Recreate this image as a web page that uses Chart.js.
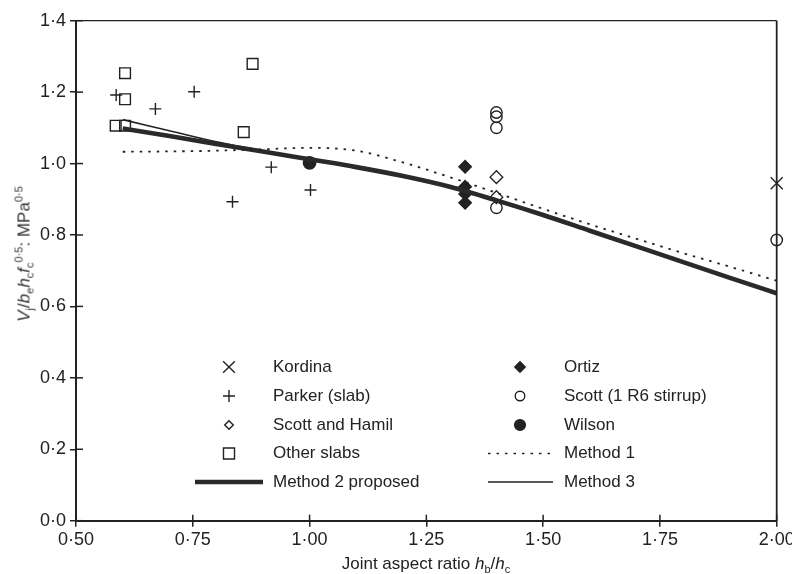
<!DOCTYPE html>
<html>
<head>
<meta charset="utf-8">
<script src="https://cdn.jsdelivr.net/npm/chart.js@4.4.0/dist/chart.umd.min.js"></script>
<style>
  html, body { margin: 0; padding: 0; background: #fff; }
  #wrap { position: relative; width: 792px; height: 574px; font-family: "Liberation Sans", Arial, sans-serif; color: #222; }
  canvas { position: absolute; left: 0; top: 0; }
  .title { position: absolute; white-space: nowrap; font-size: 17px; line-height: 1; font-weight: normal; }
  .title i { font-style: italic; }
  .title sub, .title sup { font-size: 11px; line-height: 0; }
  #ytitle { left: 24px; top: 254px; transform: translate(-50%, -50%) rotate(-90deg); color: #333; }
  #xtitle { left: 426px; top: 563px; transform: translate(-50%, -50%); }
</style>
</head>
<body>
<div id="wrap">
  <canvas id="chart" width="792" height="574"></canvas>
  <div class="title" id="ytitle"><i>V</i><sub>j</sub>/<i>b</i><sub>e</sub><i>h</i><sub>c</sub><i>f</i><sub>c</sub><sup>0·5</sup>: MPa<sup>0·5</sup></div>
  <div class="title" id="xtitle">Joint aspect ratio <i>h</i><sub>b</sub>/<i>h</i><sub>c</sub></div>
</div>
<script>
// test data
const kordina = [{ x: 2.0, y: 0.945 }];
const parker = [
  { x: 0.586, y: 1.192 }, { x: 0.67, y: 1.153 }, { x: 0.753, y: 1.201 },
  { x: 0.835, y: 0.893 }, { x: 0.918, y: 0.99 }, { x: 1.002, y: 0.926 },
];
const scottHamil = [{ x: 1.4, y: 0.962 }, { x: 1.4, y: 0.906 }];
const otherSlabs = [
  { x: 0.585, y: 1.106 }, { x: 0.605, y: 1.106 }, { x: 0.605, y: 1.18 },
  { x: 0.605, y: 1.253 }, { x: 0.859, y: 1.088 }, { x: 0.878, y: 1.279 },
];
const ortiz = [{ x: 1.333, y: 0.991 }, { x: 1.333, y: 0.935 }, { x: 1.333, y: 0.915 }, { x: 1.333, y: 0.89 }];
const scottR6 = [{ x: 1.4, y: 1.143 }, { x: 1.4, y: 1.131 }, { x: 1.4, y: 1.1 }, { x: 1.4, y: 0.876 }, { x: 2.0, y: 0.786 }];
const wilson = [{ x: 1.0, y: 1.002 }];

// design curves
const methodX = [0.6, 0.7, 0.8, 0.9, 1.0, 1.1, 1.2, 1.3, 1.4, 1.5, 1.6, 1.7, 1.8, 1.9, 2.0];
const method1 = [1.033, 1.034, 1.036, 1.04, 1.044, 1.036, 1.003, 0.962, 0.918, 0.873, 0.83, 0.789, 0.749, 0.711, 0.672];
const method2 = [1.098, 1.077, 1.055, 1.034, 1.012, 0.99, 0.965, 0.935, 0.897, 0.856, 0.812, 0.768, 0.724, 0.68, 0.637];
const method3 = [1.123, 1.092, 1.061, 1.036, 1.014, 0.992, 0.966, 0.936, 0.899, 0.858, 0.814, 0.77, 0.726, 0.682, 0.64];

const xTicks = [0.5, 0.75, 1.0, 1.25, 1.5, 1.75, 2.0];
const yTicks = [0, 0.2, 0.4, 0.6, 0.8, 1.0, 1.2, 1.4];

const INK = "#222";
const FONT = '"Liberation Sans", Arial, sans-serif';
const toXY = (ys) => methodX.map((x, i) => ({ x, y: ys[i] }));
const dot = (s) => s.replace(".", "·");

function pts(label, data, style, radius, filled) {
  return {
    type: "scatter", label, data, clip: false,
    pointStyle: style, pointRadius: radius, pointHoverRadius: radius,
    pointBorderWidth: 1.4, borderColor: INK,
    pointBackgroundColor: filled ? INK : "rgba(255,255,255,0)",
    backgroundColor: filled ? INK : "rgba(255,255,255,0)",
  };
}
function curve(label, ys, width, dash, color) {
  return {
    type: "line", label, data: toXY(ys), borderColor: color || INK, borderWidth: width,
    borderDash: dash || [], pointRadius: 0, tension: 0.4, cubicInterpolationMode: "monotone", fill: false,
  };
}

// legend rows: [label, kind, style, radius, filled, column, row]
const legendItems = [
  ["Kordina", "pt", "crossRot", 8.3, false, 0, 0],
  ["Parker (slab)", "pt", "cross", 6, false, 0, 1],
  ["Scott and Hamil", "pt", "rectRot", 4.3, false, 0, 2],
  ["Other slabs", "pt", "rect", 7.8, false, 0, 3],
  ["Method 2 proposed", "line", 4.6, null, null, 0, 4],
  ["Ortiz", "pt", "rectRot", 5.2, true, 1, 0],
  ["Scott (1 R6 stirrup)", "pt", "circle", 4.8, false, 1, 1],
  ["Wilson", "pt", "circle", 5.4, true, 1, 2],
  ["Method 1", "dash", 1.6, null, null, 1, 3],
  ["Method 3", "line", 1.6, null, null, 1, 4],
];

const frame = {
  id: "frame",
  afterDraw(chart) {
    const { ctx, chartArea: a, scales } = chart;
    ctx.save();
    ctx.strokeStyle = INK;
    // top and right border
    ctx.lineWidth = 1.3;
    ctx.beginPath(); ctx.moveTo(a.left, a.top); ctx.lineTo(a.right, a.top); ctx.stroke();
    ctx.lineWidth = 1.8;
    ctx.beginPath(); ctx.moveTo(a.right, a.top); ctx.lineTo(a.right, a.bottom); ctx.stroke();
    // inner halves of the ticks
    ctx.lineWidth = 1.5;
    xTicks.forEach((v) => {
      const px = scales.x.getPixelForValue(v);
      ctx.beginPath(); ctx.moveTo(px, a.bottom); ctx.lineTo(px, a.bottom - 6); ctx.stroke();
    });
    yTicks.forEach((v) => {
      const py = scales.y.getPixelForValue(v);
      ctx.beginPath(); ctx.moveTo(a.left, py); ctx.lineTo(a.left + 7, py); ctx.stroke();
    });

    // legend
    const colMark = [229, 520], colText = [273, 564], lineSpan = [[195, 263], [488, 553]];
    const rowY = [367, 396, 425, 453.5, 482];
    ctx.font = "17px " + FONT;
    ctx.textBaseline = "middle";
    ctx.fillStyle = INK;
    legendItems.forEach(([label, kind, a1, r, filled, c, rIdx]) => {
      const y = rowY[rIdx];
      ctx.strokeStyle = INK;
      if (kind === "pt") {
        ctx.fillStyle = filled ? INK : "#fff";
        ctx.lineWidth = 1.4;
        ctx.setLineDash([]);
        Chart.helpers.drawPoint(ctx, { pointStyle: a1, radius: r, borderWidth: 1.4, rotation: 0 }, colMark[c], y);
      } else {
        ctx.lineWidth = a1;
        ctx.strokeStyle = kind === "line" && a1 > 3 ? "#2a2a2a" : INK;
        ctx.setLineDash(kind === "dash" ? [2.5, 6] : []);
        ctx.beginPath(); ctx.moveTo(lineSpan[c][0], y); ctx.lineTo(lineSpan[c][1], y); ctx.stroke();
        ctx.setLineDash([]);
      }
      ctx.fillStyle = INK;
      ctx.fillText(label, colText[c], y);
    });
    ctx.restore();
  },
};

new Chart(document.getElementById("chart"), {
  data: {
    datasets: [
      curve("Method 1", method1, 1.8, [2.5, 6]),
      curve("Method 2 proposed", method2, 4.6, null, "#2a2a2a"),
      curve("Method 3", method3, 1.6),
      pts("Kordina", kordina, "crossRot", 8.5, false),
      pts("Parker (slab)", parker, "cross", 6, false),
      pts("Scott and Hamil", scottHamil, "rectRot", 6.3, false),
      pts("Other slabs", otherSlabs, "rect", 7.6, false),
      pts("Ortiz", ortiz, "rectRot", 6.2, true),
      pts("Scott (1 R6 stirrup)", scottR6, "circle", 5.7, false),
      pts("Wilson", wilson, "circle", 6.2, true),
    ],
  },
  options: {
    responsive: false,
    animation: false,
    layout: { padding: { top: 20.7, right: 15.3, left: 0, bottom: 0 } },
    plugins: { legend: { display: false }, tooltip: { enabled: false } },
    scales: {
      x: {
        type: "linear", min: 0.5, max: 2.0,
        afterBuildTicks: (s) => { s.ticks = xTicks.map((v) => ({ value: v })); },
        afterFit: (s) => { s.height = 53.3; s.paddingLeft = 0; s.paddingRight = 0; },
        ticks: { callback: (v) => dot(v.toFixed(2)), font: { family: FONT, size: 18 }, color: INK, padding: 3, maxRotation: 0 },
        grid: { drawOnChartArea: false, tickLength: 6, color: INK, lineWidth: 1.5 },
        border: { display: true, color: INK, width: 2 },
      },
      y: {
        type: "linear", min: 0, max: 1.4,
        afterBuildTicks: (s) => { s.ticks = yTicks.map((v) => ({ value: v })); },
        afterFit: (s) => { s.width = 76; },
        ticks: { callback: (v) => dot(v.toFixed(1)), font: { family: FONT, size: 18 }, color: INK, padding: 4 },
        grid: { drawOnChartArea: false, tickLength: 6, color: INK, lineWidth: 1.5 },
        border: { display: true, color: INK, width: 2 },
      },
    },
  },
  plugins: [frame],
});
</script>
</body>
</html>
